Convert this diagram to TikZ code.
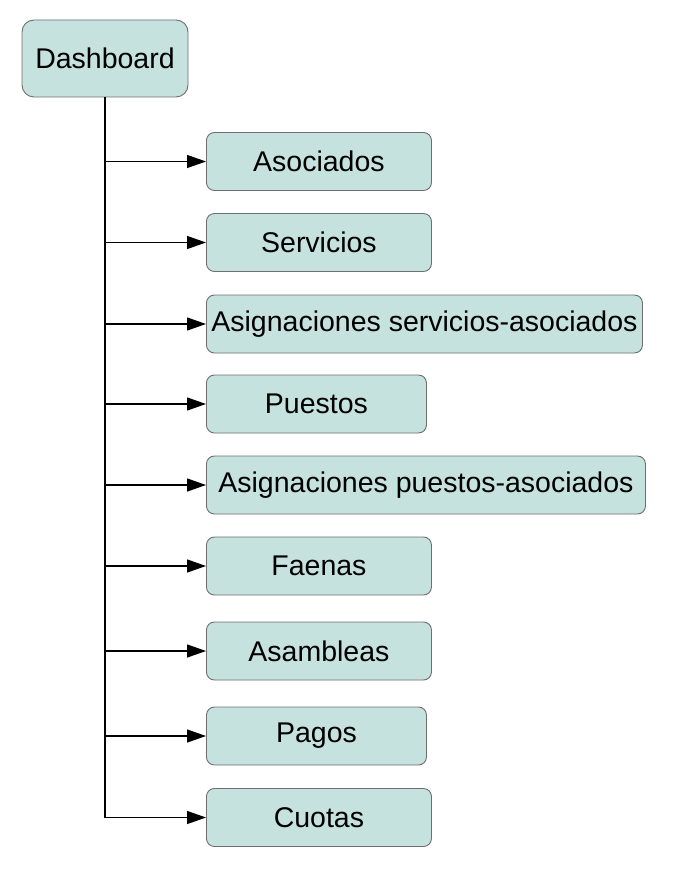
\documentclass[tikz,border=0pt]{standalone}
\usepackage{fontspec}
\setmainfont{Liberation Sans}
\usetikzlibrary{arrows.meta}
\definecolor{boxfill}{HTML}{C6E2DF}
\definecolor{boxline}{HTML}{6E6E6E}
\begin{document}
\begin{tikzpicture}[x=1pt,y=-1pt,
  box/.style={draw=boxline,fill=boxfill,line width=0.9pt,rounded corners=8pt,
    minimum height=58pt,inner sep=0pt,anchor=west,font=\fontsize{28.5}{32}\selectfont},
  conn/.style={line width=1.3pt,-{Triangle[length=19pt,width=13pt]}}]
\useasboundingbox (0,0) rectangle (685,874);
\node[box,rounded corners=12pt,minimum width=166pt,minimum height=77pt,anchor=center] (dash) at (105,58.5) {Dashboard};
\node[box,minimum width=225pt] (a1) at (206,161.5) {Asociados};
\node[box,minimum width=225pt] (a2) at (206,242.5) {Servicios};
\node[box,minimum width=436pt] (a3) at (206,324) {Asignaciones servicios-asociados};
\node[box,minimum width=220pt] (a4) at (206,404) {Puestos};
\node[box,minimum width=439pt] (a5) at (206,485) {Asignaciones puestos-asociados};
\node[box,minimum width=225pt] (a6) at (206,566) {Faenas};
\node[box,minimum width=225pt] (a7) at (206,651) {Asambleas};
\node[box,minimum width=220pt] (a8) at (206,736) {Pagos};
\node[box,minimum width=225pt] (a9) at (206,817.5) {Cuotas};
\draw[conn] (dash.south) |- (a9.west);
\foreach \n in {a1,a2,a3,a4,a5,a6,a7,a8}
  \draw[conn] (dash.south |- \n.west) -- (\n.west);
\end{tikzpicture}
\end{document}
